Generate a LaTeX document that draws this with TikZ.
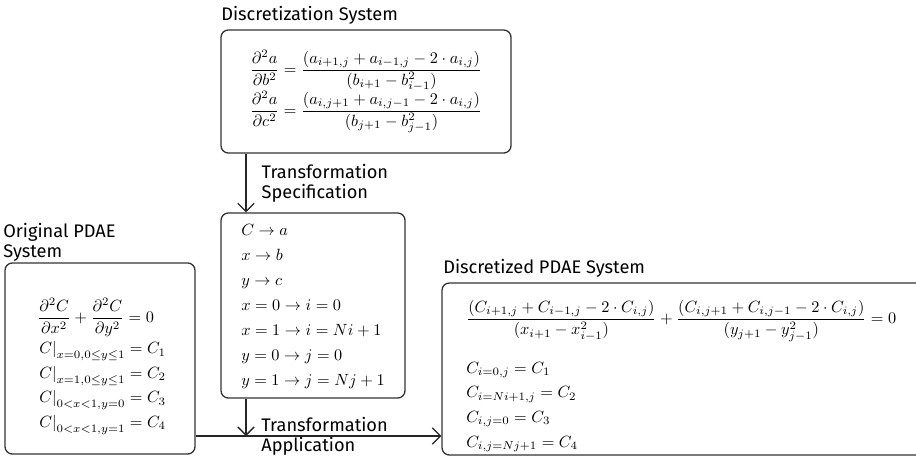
\documentclass[tikz,border=0pt]{standalone}
\usepackage{amsmath}
\usepackage{fontspec}
\setsansfont{Fira Sans}
\usetikzlibrary{arrows.meta}

\begin{document}
\begin{tikzpicture}[x=0.615pt,y=-0.615pt,
  box/.style={draw=black!80, line width=0.8pt, rounded corners=4.5pt,
    inner sep=0pt, align=left},
  eqs/.style={inner sep=0pt, anchor=north west},
  ttl/.style={font=\sffamily\fontsize{11.2}{12.4}\selectfont, inner sep=0pt, align=left},
  flow/.style={draw=black!85, line width=0.8pt,
    -{Straight Barb[length=5pt,width=10pt]}}]
\clip (0,0) rectangle (916,457);

% Discretization system
\node[box, minimum width=290*0.615pt, minimum height=123*0.615pt] (dsys) at (366,91.5)
  {\renewcommand{\arraystretch}{1.0}%
   $\begin{array}{@{}l@{}}
   \dfrac{\partial^2 a}{\partial b^2} = \dfrac{(a_{i+1,j} + a_{i-1,j} - 2\cdot a_{i,j})}{(b_{i+1} - b_{i-1}^2)}\\
   \dfrac{\partial^2 a}{\partial c^2} = \dfrac{(a_{i,j+1} + a_{i,j-1} - 2\cdot a_{i,j})}{(b_{j+1} - b_{j-1}^2)}
   \end{array}$};
\node[ttl, anchor=west] (dsysT) at (221,15) {Discretization System};

% Transformation specification
\node[box, minimum width=184*0.615pt, minimum height=185*0.615pt] (tspec) at (313,305.5)
  {\renewcommand{\arraystretch}{1.28}%
   $\begin{array}{@{}l@{}}
   C \to a\\
   x \to b\\
   y \to c\\
   x = 0 \to i = 0\\
   x = 1 \to i = Ni + 1\\
   y = 0 \to j = 0\\
   y = 1 \to j = Nj + 1
   \end{array}$};

% Original PDAE system
\node[box, minimum width=190*0.615pt, minimum height=191*0.615pt] (orig) at (100,358.5) {};
\node[eqs] (origEq) at (37,298)
  {\renewcommand{\arraystretch}{1.25}%
   $\begin{array}{@{}l@{}}
   \dfrac{\partial^2 C}{\partial x^2} + \dfrac{\partial^2 C}{\partial y^2} = 0\\
   \left.C\right|_{x=0,0\leq y\leq 1} = C_1\\
   \left.C\right|_{x=1,0\leq y\leq 1} = C_2\\
   \left.C\right|_{0<x<1,y=0} = C_3\\
   \left.C\right|_{0<x<1,y=1} = C_4
   \end{array}$};
\node[ttl, anchor=west] (origT) at (3,242) {Original PDAE\\System};

% Discretized PDAE system
\node[box, minimum width=485*0.615pt, minimum height=172*0.615pt] (dpde) at (684.5,369) {};
\node[eqs] (dpdeEq) at (466,300)
  {\renewcommand{\arraystretch}{1.26}%
   $\begin{array}{@{}l@{}}
   \dfrac{(C_{i+1,j} + C_{i-1,j} - 2\cdot C_{i,j})}{(x_{i+1} - x_{i-1}^2)}
   + \dfrac{(C_{i,j+1} + C_{i,j-1} - 2\cdot C_{i,j})}{(y_{j+1} - y_{j-1}^2)} = 0\\[15.5pt]
   C_{i=0,j} = C_1\\
   C_{i=Ni+1,j} = C_2\\
   C_{i,j=0} = C_3\\
   C_{i,j=Nj+1} = C_4
   \end{array}$};
\node[ttl, anchor=west] (dpdeT) at (443,268) {Discretized PDAE System};

% Connectors
\coordinate (spine) at (246,436);
\draw[flow] (dsys.south -| spine) -- (tspec.north -| spine)
  node[midway, anchor=west, xshift=15*0.615pt, ttl] (specL) {Transformation\\Specification};
\draw[flow] (tspec.south -| spine) -- (spine);
\draw[flow] (orig.east |- spine) -- (dpde.west |- spine);
\node[ttl, anchor=west] (applL) at (261,436) {Transformation\\Application};
\end{tikzpicture}
\end{document}
